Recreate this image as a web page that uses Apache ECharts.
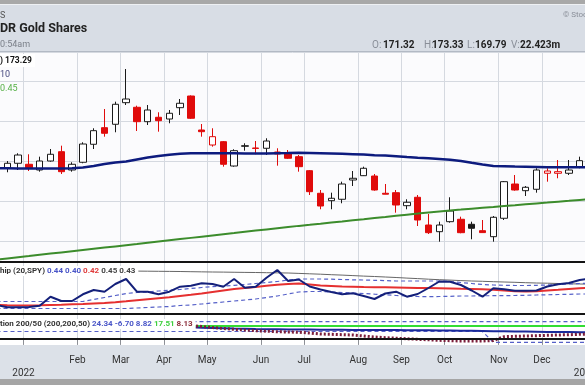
<!DOCTYPE html>
<html><head><meta charset="utf-8">
<script src="https://cdn.jsdelivr.net/npm/echarts@6/dist/echarts.min.js"></script>
<style>html,body{margin:0;padding:0;background:#fff}#c{width:585px;height:385px}</style>
</head><body><div id="c"></div>
<script>
// ---- categories (weekly bars) ----
const weeks = ['2021-12-13','2021-12-20','2021-12-27','2022-01-03','2022-01-10','2022-01-17','2022-01-24','2022-01-31',
'2022-02-07','2022-02-14','2022-02-21','2022-02-28','2022-03-07','2022-03-14','2022-03-21','2022-03-28','2022-04-04',
'2022-04-11','2022-04-18','2022-04-25','2022-05-02','2022-05-09','2022-05-16','2022-05-23','2022-05-30','2022-06-06',
'2022-06-13','2022-06-20','2022-06-27','2022-07-04','2022-07-11','2022-07-18','2022-07-25','2022-08-01','2022-08-08',
'2022-08-15','2022-08-22','2022-08-29','2022-09-05','2022-09-12','2022-09-19','2022-09-26','2022-10-03','2022-10-10',
'2022-10-17','2022-10-24','2022-10-31','2022-11-07','2022-11-14','2022-11-21','2022-11-28','2022-12-05','2022-12-12',
'2022-12-19','2022-12-26','2023-01-02','2023-01-09'];
// month / year ticks (category index and label)
const tickIndex = [3,8,12,16,20,25,29,34,38,42,47,51,55];
const tickText  = ['2022','Feb','Mar','Apr','May','Jun','Jul','Aug','Sep','Oct','Nov','Dec','2023'];
const tickYear  = [true,false,false,false,false,false,false,false,false,false,false,false,true];

// ---- price candles ----
const openV  = [167.75,168.18,169.43,169.18,167.75,170.0,172.33,167.75,169.68,174.18,178.33,179.18,184.58,183.43,179.83,180.93,180.5,183.33,186.25,177.75,174.0,174.83,168.75,173.8,173.25,173.18,172.25,172.08,171.08,167.58,161.93,160.08,160.43,165.25,166.33,166.25,161.93,162.08,158.83,160.93,154.0,152.33,154.83,155.43,154.18,152.58,151.08,155.68,164.25,162.58,162.93,166.93,166.93,166.93,168.58];
const closeV = [168.58,169.43,171.5,168.33,170.0,171.68,167.33,169.18,174.25,177.58,176.93,184.18,185.5,179.83,182.75,180.08,181.93,184.43,180.68,177.33,176.08,169.18,172.58,173.7,173.15,175.0,171.75,170.68,168.58,162.33,158.75,160.68,164.25,165.68,168.18,162.75,161.7,159.0,159.68,155.25,152.08,154.0,157.5,152.08,153.18,152.1,155.93,164.83,162.75,163.43,167.75,167.5,167.33,167.75,170.08];
const lowV   = [167.25,167.18,167.75,167.5,167.33,169.83,166.75,167.33,169.43,173.0,176.08,177.18,184.0,177.5,179.0,177.33,179.43,181.5,180.5,176.08,173.58,168.58,168.58,172.58,171.68,171.5,168.83,170.5,167.33,161.5,157.93,157.93,159.43,163.75,166.25,162.58,161.68,157.08,157.93,153.75,151.75,149.83,154.58,151.93,150.43,152.08,149.83,155.25,162.58,161.25,162.08,164.83,165.68,166.5,168.18];
const highV  = [169.5,170.0,171.93,171.68,171.08,173.0,173.83,169.68,174.68,178.18,183.0,184.83,193.0,183.83,184.0,182.18,182.75,185.5,186.4,179.25,178.18,175.0,172.93,174.43,175.0,175.68,173.18,172.75,171.5,167.75,162.75,162.08,164.83,167.5,168.58,166.75,164.25,162.75,160.43,161.5,156.75,154.83,160.93,156.08,154.83,155.25,156.25,165.0,166.5,163.75,168.18,168.18,170.25,170.25,171.08];
const ma50   = [168.18,168.18,168.13,168.13,168.13,168.13,168.13,168.18,168.38,168.75,169.25,169.63,169.88,170.38,170.88,171.25,171.58,171.8,171.93,171.95,171.95,171.95,171.93,171.88,171.85,171.88,171.93,171.98,172.05,172.0,171.95,171.88,171.8,171.7,171.6,171.45,171.35,171.18,171.0,170.83,170.7,170.53,170.33,170.0,169.55,169.13,168.75,168.68,168.6,168.55,168.5,168.45,168.43,168.43,168.43,168.43];
const ma200  = [145.33,145.63,145.93,146.23,146.55,146.85,147.15,147.45,147.75,148.05,148.35,148.65,148.95,149.25,149.58,149.88,150.18,150.48,150.78,151.08,151.38,151.68,151.98,152.3,152.6,152.9,153.2,153.5,153.78,154.05,154.33,154.63,154.9,155.18,155.45,155.73,156.0,156.3,156.58,156.85,157.13,157.4,157.63,157.85,158.08,158.3,158.5,158.73,158.95,159.18,159.4,159.6,159.83,160.05,160.28,160.5];

// ---- correlation panel ----
const corr     = [0.388,0.3834,0.3834,0.384,0.3866,0.4046,0.396,0.396,0.4094,0.418,0.4146,0.43,0.44,0.4146,0.4146,0.4094,0.4146,0.4246,0.4266,0.4314,0.43,0.4246,0.44,0.4226,0.4246,0.4426,0.458,0.436,0.439,0.425,0.419,0.414,0.4094,0.4114,0.406,0.4,0.411,0.4146,0.4046,0.41,0.422,0.435,0.4346,0.428,0.417,0.4046,0.4214,0.4194,0.4166,0.4166,0.417,0.425,0.4294,0.432,0.438,0.441];
const corrMA   = [0.388,0.3874,0.387,0.387,0.3874,0.388,0.3886,0.3894,0.39,0.391,0.392,0.3936,0.3954,0.3974,0.3994,0.4014,0.4034,0.406,0.4084,0.411,0.414,0.417,0.42,0.422,0.424,0.4264,0.4284,0.43,0.431,0.429,0.427,0.426,0.425,0.4246,0.424,0.4236,0.4234,0.423,0.4226,0.422,0.422,0.4216,0.421,0.4204,0.42,0.4194,0.4184,0.417,0.4156,0.415,0.4156,0.417,0.4184,0.42,0.4216,0.4226];
const corrUp   = [0.395,0.395,0.395,0.395,0.395,0.395,0.395,0.395,0.395,0.399,0.403,0.407,0.411,0.413,0.414,0.416,0.4174,0.419,0.421,0.423,0.4246,0.426,0.4274,0.429,0.431,0.433,0.435,0.438,0.44,0.44,0.44,0.4396,0.439,0.4384,0.438,0.4374,0.4368,0.436,0.436,0.436,0.436,0.436,0.435,0.433,0.431,0.429,0.428,0.4274,0.427,0.427,0.4274,0.428,0.429,0.43,0.431,0.4314];
const corrLo   = [0.381,0.381,0.381,0.381,0.381,0.381,0.381,0.381,0.381,0.381,0.381,0.381,0.381,0.382,0.383,0.384,0.385,0.387,0.388,0.39,0.392,0.394,0.396,0.398,0.4,0.403,0.406,0.41,0.414,0.415,0.415,0.414,0.413,0.412,0.411,0.4096,0.4084,0.407,0.406,0.405,0.4046,0.405,0.4054,0.406,0.406,0.4064,0.4066,0.4068,0.407,0.4074,0.408,0.4084,0.409,0.4094,0.41,0.41];
const corrLong = [0.456,0.456,0.456,0.456,0.456,0.456,0.456,0.456,0.456,0.456,0.456,0.456,0.456,0.4558,0.4556,0.4554,0.4552,0.455,0.4546,0.4543,0.454,0.4538,0.4535,0.4532,0.453,0.4526,0.4523,0.452,0.4512,0.4504,0.4496,0.4486,0.4478,0.4468,0.4458,0.445,0.444,0.443,0.4418,0.4408,0.4396,0.4386,0.4378,0.4368,0.436,0.4354,0.4346,0.434,0.4334,0.4326,0.432,0.4316,0.431,0.4304,0.43,0.4296];

// ---- 200/50 panel ----
const rUp    = [24.34,24.34,24.34,24.34,24.34,24.34,24.34,24.34,24.34,24.34,24.34,24.34,24.34,24.34,24.34,24.34,24.34,24.34,24.34,24.34,24.34,24.34,24.34,24.34,24.34,24.34,24.34,24.34,24.34,24.34,24.34,24.34,24.34,24.34,24.34,24.34,24.34,24.34,24.34,24.34,24.34,24.34,24.34,24.34,24.34,24.34,24.34,24.34,24.34,24.34,24.34,24.34,24.34,24.34,24.34,24.34];
const rLo    = [9.57,9.57,9.57,9.57,9.57,9.57,9.57,9.57,9.57,9.57,9.57,9.57,9.57,9.57,9.57,9.57,9.57,9.57,9.57,9.57,9.57,9.57,9.57,9.57,9.57,9.57,9.57,9.57,9.57,9.57,9.57,9.57,9.57,9.57,9.57,9.57,9.57,9.57,9.57,9.57,9.57,9.57,9.57,9.57,9.57,9.57,-6.7,-6.7,-6.7,-6.7,-6.7,-6.7,-6.7,-6.7,-6.7,-6.7];
const rGreen = [17.7,17.7,17.7,17.7,17.7,17.7,17.7,17.7,17.7,17.7,17.7,17.7,17.7,17.7,17.7,17.7,17.7,17.7,17.7,17.7,17.7,17.7,17.7,17.7,17.7,17.7,17.7,17.7,17.7,17.7,17.7,17.7,17.7,17.7,17.7,17.7,17.7,17.7,17.7,17.7,17.7,17.7,17.7,17.7,17.7,17.7,17.7,17.7,17.7,17.7,17.7,17.7,17.7,17.7,17.7,17.7];
const rNavy  = [16.5,16.5,16.5,16.5,16.5,16.5,16.5,16.5,16.5,16.5,16.5,16.5,16.5,16.5,16.5,16.5,16.5,16.35,15.8,15.3,14.85,14.4,14.0,13.7,13.34,13.1,12.9,12.75,12.6,12.5,12.4,12.25,12.1,12.0,11.9,11.85,11.8,11.7,11.6,11.5,11.4,11.2,11.0,10.8,10.6,10.35,10.1,9.85,9.6,9.4,9.2,9.0,8.8,8.65,8.5,8.4];
const rDot   = ['-','-','-','-','-','-','-','-','-','-','-','-','-','-','-','-','-',19.37,18.61,17.11,15.6,14.09,12.89,11.83,10.78,10.02,9.27,8.82,8.37,7.31,5.8,5.35,4.75,4.3,2.79,1.28,0.23,-0.53,-1.43,-2.18,-2.94,-3.69,-4.29,-4.75,-4.75,-4.75,-3.99,1.74,2.34,2.79,3.24,3.84,4.3,4.75,5.35,5.8];

// ---- build ----
const RED = '#e00b0b', BLK = '#1a1a1a', GRID = '#d5d9e0';
const candleData = openV.map((o, i) => {
  const c = closeV[i];
  const prev = i > 0 ? closeV[i - 1] : o;
  const red = c < prev;
  const hollow = c >= o;
  const line = red ? RED : BLK;
  const fill = hollow ? '#ffffff' : line;
  return { value: [o, c, lowV[i], highV[i]],
           itemStyle: { color: fill, color0: fill, borderColor: line, borderColor0: line, borderWidth: 1 } };
});
const isTick = (i) => tickIndex.indexOf(i) >= 0;
const gridCommon = { left: -8.9, right: -21.7, show: true, borderWidth: 0, containLabel: false, outerBoundsMode: 'none' };

function xAx(g) {
  return {
    type: 'category', gridIndex: g, data: weeks, boundaryGap: true,
    axisLine: { show: false },
    axisTick: { show: g === 2, interval: isTick, length: 7, lineStyle: { color: '#8c8f95', width: 1 } },
    axisLabel: { show: g === 2, interval: isTick, margin: 9, color: '#333', fontFamily: 'Roboto', fontSize: 10,
      lineHeight: 13, padding: [0, 10.8, 0, 0],
      formatter: (v, i) => { const k = tickIndex.indexOf(i); if (k < 0) return ''; return tickYear[k] ? '\n' + tickText[k] : tickText[k]; } },
    splitLine: { show: true, interval: isTick, lineStyle: { color: GRID, width: 1 } }
  };
}
function yAx(g, min, max, extra) {
  return Object.assign({ type: 'value', gridIndex: g, min: min, max: max, scale: true,
    axisLine: { show: false }, axisTick: { show: false }, axisLabel: { show: false }, splitLine: { show: false } }, extra || {});
}
function ln(name, data, x, color, width, type, z) {
  return { type: 'line', name: name, xAxisIndex: x, yAxisIndex: x, data: data, showSymbol: false, symbol: 'none',
    lineStyle: { color: color, width: width, type: type || 'solid' }, z: z || 4, silent: true, animation: false };
}

const graphics = [
  { type: 'rect', shape: { x: 0, y: 0, width: 585, height: 4 }, style: { fill: '#a8a8a8' }, z: 100 },
  { type: 'rect', shape: { x: 0, y: 4, width: 585, height: 1 }, style: { fill: '#eef0f3' }, z: 100 },
  { type: 'rect', shape: { x: 0, y: 5, width: 585, height: 46 }, style: { fill: '#d8dde5' }, z: 100 },
  { type: 'rect', shape: { x: 0, y: 51, width: 585, height: 1 }, style: { fill: '#b2b9c4' }, z: 100 },
  { type: 'rect', shape: { x: 0, y: 261, width: 585, height: 2 }, style: { fill: '#141414' }, z: 100 },
  { type: 'rect', shape: { x: 0, y: 313, width: 585, height: 2 }, style: { fill: '#141414' }, z: 100 },
  { type: 'rect', shape: { x: 0, y: 338, width: 585, height: 2 }, style: { fill: '#141414' }, z: 100 },
  { type: 'rect', shape: { x: 0, y: 379, width: 585, height: 6 }, style: { fill: '#a5a5a5' }, z: 100 },
  { type: 'text', x: 0, y: 11, z: 101, style: { text: 'S', fill: '#555', font: '9px Roboto', align: 'left', verticalAlign: 'top' } },
  { type: 'text', x: 0, y: 22, z: 101, style: { text: 'DR Gold Shares', fill: '#222', font: 'bold 12.5px Roboto', align: 'left', verticalAlign: 'top' } },
  { type: 'text', x: 0, y: 40, z: 101, style: { text: '0:54am', fill: '#7a7f88', font: '9px Roboto', align: 'left', verticalAlign: 'top' } },
  { type: 'text', x: 563, y: 11, z: 101, style: { text: '© StockCharts.com', fill: '#8a8f99', font: '8px Roboto', align: 'left', verticalAlign: 'top' } },
  { type: 'text', x: 372, y: 40, z: 101, style: { text: 'O:', fill: '#8a8f99', font: '10px Roboto', align: 'left', verticalAlign: 'top' } },
  { type: 'text', x: 383, y: 40, z: 101, style: { text: '171.32', fill: '#222', font: 'bold 10px Roboto', align: 'left', verticalAlign: 'top' } },
  { type: 'text', x: 424, y: 40, z: 101, style: { text: 'H:', fill: '#8a8f99', font: '10px Roboto', align: 'left', verticalAlign: 'top' } },
  { type: 'text', x: 432, y: 40, z: 101, style: { text: '173.33', fill: '#222', font: 'bold 10px Roboto', align: 'left', verticalAlign: 'top' } },
  { type: 'text', x: 467, y: 40, z: 101, style: { text: 'L:', fill: '#8a8f99', font: '10px Roboto', align: 'left', verticalAlign: 'top' } },
  { type: 'text', x: 475, y: 40, z: 101, style: { text: '169.79', fill: '#222', font: 'bold 10px Roboto', align: 'left', verticalAlign: 'top' } },
  { type: 'text', x: 511, y: 40, z: 101, style: { text: 'V:', fill: '#8a8f99', font: '10px Roboto', align: 'left', verticalAlign: 'top' } },
  { type: 'text', x: 520, y: 40, z: 101, style: { text: '22.423m', fill: '#222', font: 'bold 10px Roboto', align: 'left', verticalAlign: 'top' } },
  // main legend
  { type: 'text', x: 0, y: 54, z: 101, style: { text: ') 173.29', fill: '#111', font: 'bold 8.5px Roboto', align: 'left', verticalAlign: 'top', backgroundColor: '#fff', padding: [2, 3, 2, 0] } },
  { type: 'text', x: 0, y: 70, z: 101, style: { text: '10', fill: '#47497f', font: '9px Roboto', align: 'left', verticalAlign: 'top' } },
  { type: 'text', x: 0, y: 84, z: 101, style: { text: '0.45', fill: '#56b046', font: '9px Roboto', align: 'left', verticalAlign: 'top' } },
  // correlation legend
  { type: 'text', x: 0, y: 266, z: 101, style: {
      text: '{a|hip (20,SPY)} {b|0.44 0.40} {r|0.42} {g|0.45 0.43}', font: 'bold 8px Roboto', fill: '#333',
      align: 'left', verticalAlign: 'top', backgroundColor: '#fff', padding: [1, 3, 1, 0],
      rich: { a: { fill: '#333', font: 'bold 8px Roboto' }, b: { fill: '#4a56c8', font: 'bold 8px Roboto' },
              r: { fill: '#e03c3c', font: 'bold 8px Roboto' }, g: { fill: '#444', font: 'bold 8px Roboto' } } } },
  // 200/50 legend
  { type: 'text', x: 0, y: 319, z: 101, style: {
      text: '{a|tion 200/50 (200,200,50)} {b|24.34 -6.70 8.82} {g|17.51} {m|8.13}', font: 'bold 8px Roboto', fill: '#333',
      align: 'left', verticalAlign: 'top', backgroundColor: '#fff', padding: [1, 3, 1, 0],
      rich: { a: { fill: '#333', font: 'bold 8px Roboto' }, b: { fill: '#4a56c8', font: 'bold 8px Roboto' },
              g: { fill: '#3ccf3c', font: 'bold 8px Roboto' }, m: { fill: '#8b2d3a', font: 'bold 8px Roboto' } } } }
];

const option = {
  animation: false,
  backgroundColor: '#dce1e8',
  textStyle: { fontFamily: 'Roboto' },
  grid: [
    Object.assign({ top: 52, height: 209, backgroundColor: '#fbfbfd' }, gridCommon),
    Object.assign({ top: 263, height: 50, backgroundColor: '#ffffff' }, gridCommon),
    Object.assign({ top: 315, height: 30, backgroundColor: '#ffffff' }, gridCommon)
  ],
  xAxis: [xAx(0), xAx(1), xAx(2)],
  yAxis: [
    yAx(0, 145, 197.25, { interval: 5, splitLine: { show: true, lineStyle: { color: ['rgba(0,0,0,0)', GRID], width: 1 } } }),
    yAx(1, 0.372, 0.472),
    yAx(2, -10.77, 34.44)
  ],
  series: [
    { type: 'candlestick', xAxisIndex: 0, yAxisIndex: 0, data: candleData, barWidth: 7, z: 3, silent: true },
    ln('MA50', ma50, 0, '#0d1b7e', 2.5, 'solid', 5),
    ln('MA200', ma200, 0, '#3c8c2c', 2, 'solid', 5),
    ln('long', corrLong, 1, '#666666', 1),
    ln('upper', corrUp, 1, '#5560c8', 1.2, [4, 3]),
    ln('lower', corrLo, 1, '#5560c8', 1.2, [4, 3]),
    ln('ma', corrMA, 1, '#e53030', 2),
    ln('corr', corr, 1, '#14207a', 2),
    ln('rUp', rUp, 2, '#5560c8', 1.2, [4, 3]),
    ln('rLo', rLo, 2, '#5560c8', 1.2, [4, 3]),
    ln('rGreen', rGreen, 2, '#33dd33', 2),
    ln('rNavy', rNavy, 2, '#1a2a9a', 2),
    ln('rDot', rDot, 2, '#7b1e3a', 3, [2, 2])
  ],
  graphic: { elements: graphics }
};
const chart = echarts.init(document.getElementById('c'), null, { renderer: 'canvas' });
chart.setOption(option);
</script></body></html>
